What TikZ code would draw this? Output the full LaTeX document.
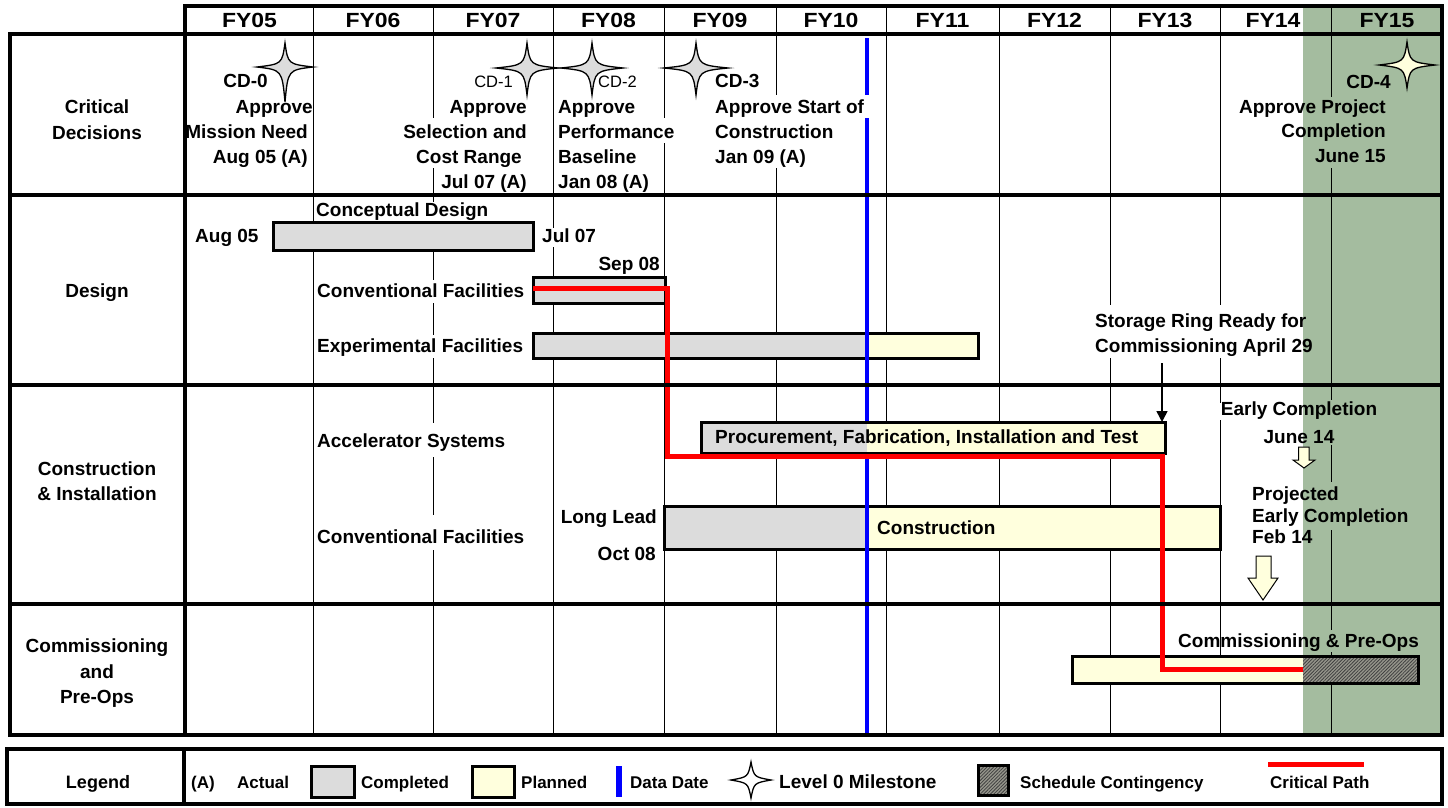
\documentclass[tikz,border=0pt]{standalone}
\usepackage{fontspec}
\setmainfont{Liberation Sans}
\newfontfamily\hdrfont[FakeStretch=1.12]{Liberation Sans}
\usetikzlibrary{patterns.meta,arrows.meta}
\definecolor{cdgray}{RGB}{220,220,220}
\definecolor{planyel}{RGB}{255,255,221}
\definecolor{contgreen}{RGB}{164,188,159}
\definecolor{hatchbg}{RGB}{150,150,140}
\begin{document}
\begin{tikzpicture}[x=1pt,y=-1pt,
  lbl/.style={font=\fontsize{19}{22}\selectfont\bfseries, inner sep=0pt},
  hdr/.style={font=\hdrfont\fontsize{20.5}{22}\selectfont\bfseries, inner sep=0pt, anchor=base},
  lblr/.style={font=\fontsize{16.5}{20}\selectfont, inner sep=0pt},
  leg/.style={font=\fontsize{17}{20}\selectfont\bfseries, inner sep=0pt, anchor=base west},
  thickframe/.style={line width=4pt, line cap=rect},
  gridline/.style={line width=1pt},
  barframe/.style={line width=3pt},
  datadate/.style={draw=blue, line width=4pt},
  critpath/.style={draw=red, line width=5pt, line join=miter},
  hatch/.style={preaction={fill=hatchbg}, pattern={Lines[angle=45,distance=2.4pt,line width=0.8pt]}, pattern color=black!75},
  blockarrow/.style={fill=planyel, draw=black, line width=1pt},
  pics/cdstar/.style n args={3}{code={
    \draw[pic actions, line width=1.3pt] (0,-#1) .. controls (3,-3) .. (#3,0) .. controls (3,3) .. (0,#2)
      .. controls (-3,3) .. (-#3,0) .. controls (-3,-3) .. cycle;}}
]
% canvas
\useasboundingbox (0,0) rectangle (1448,807);
\fill[white] (0,0) rectangle (1448,807);
% schedule contingency shading
\fill[contgreen] (1303,6) rectangle (1442,735);
% grid lines (with gaps where text sits)
\foreach \x/\a/\b in {313/6/735, 433/6/118, 433/168/202, 433/250/280, 433/303/335, 433/358/423, 433/457/515, 433/550/735,
  553/6/228, 553/247/735, 664/6/118, 664/143/735, 776/6/95, 776/168/735, 886/6/735, 999/6/735,
  1110/6/305, 1110/358/735, 1220/6/305, 1220/358/403, 1220/420/735,
  1331/6/97, 1331/168/400, 1331/445/482, 1331/530/630, 1331/652/735}
  \draw[gridline] (\x,\a) -- (\x,\b);
% header
\foreach \c/\t in {249.5/FY05, 373/FY06, 493/FY07, 608.5/FY08, 720/FY09, 831/FY10, 942.5/FY11, 1054.5/FY12, 1165/FY13, 1273/FY14, 1387/FY15}
  \node[hdr] (h\t) at (\c,27) {\t};
% bars
\draw[barframe, fill=cdgray] (273,222) rectangle (533,250);
\draw[barframe, fill=cdgray] (533,277) rectangle (665,303);
\fill[cdgray] (533,333) rectangle (867,358);
\fill[planyel] (867,333) rectangle (978,358);
\draw[barframe] (533,333) rectangle (978,358);
\fill[cdgray] (664,506) rectangle (867,549);
\fill[planyel] (867,506) rectangle (1220,549);
\draw[barframe] (664,506) rectangle (1220,549);
% data date
\draw[datadate] (867,38) -- (867,95);
\draw[datadate] (867,118) -- (867,735);
% procurement bar (in front of the data date line)
\fill[cdgray] (701,422) rectangle (867,453);
\fill[planyel] (867,422) rectangle (1165,453);
\draw[barframe] (701,422) rectangle (1165,453);
% commissioning bar
\fill[planyel] (1072,656) rectangle (1303,683);
\path[hatch] (1303,656) rectangle (1418,683);
\draw[barframe] (1072,656) rectangle (1418,683);
% critical path
\draw[critpath] (533,288) -- (667,288) -- (667,456) -- (1162,456) -- (1162,669) -- (1303,669);
% milestones
\pic[fill=cdgray] at (285,67) {cdstar={24}{35}{28}};
\pic[fill=cdgray] at (527,68) {cdstar={25}{27}{31}};
\pic[fill=cdgray] at (592,68) {cdstar={25}{27}{31}};
\pic[fill=cdgray] at (696,68) {cdstar={25}{27}{32}};
\pic[fill=planyel] at (1407,65) {cdstar={23}{23}{28}};
% block arrows
\draw[blockarrow] (1298.5,447) -- (1309,447) -- (1309,460) -- (1315,460) -- (1304,468) -- (1293,460) -- (1298.5,460) -- cycle;
\draw[blockarrow] (1256,556) -- (1271,556) -- (1271,578) -- (1278,578) -- (1263,600) -- (1248,578) -- (1256,578) -- cycle;
% storage ring arrow
\coordinate (srtop) at (1162,363);
\coordinate (srbot) at (1162,422);
\draw[line width=1.5pt, -{Triangle[length=11pt,width=11pt]}] (srtop) -- (srbot);
% row labels
\node[lbl,anchor=base] (crit1) at (97,113) {Critical};
\node[lbl,anchor=base] (crit2) at (97,139) {Decisions};
\node[lbl,anchor=base] (des) at (97,297) {Design};
\node[lbl,anchor=base] (con1) at (97,475) {Construction};
\node[lbl,anchor=base] (con2) at (97,500) {\& Installation};
\node[lbl,anchor=base] (com1) at (97,652) {Commissioning};
\node[lbl,anchor=base] (com2) at (97,678) {and};
\node[lbl,anchor=base] (com3) at (97,703) {Pre-Ops};
% CD-0
\node[lbl,anchor=base east] (cd0) at (268,87) {CD-0};
\node[lbl,anchor=base east] (cd0a) at (313,113) {Approve};
\node[lbl,anchor=base east] (cd0b) at (308,138) {Mission Need};
\node[lbl,anchor=base east] (cd0c) at (308,163) {Aug 05 (A)};
% CD-1
\node[lblr,anchor=base east] (cd1) at (513,87) {CD-1};
\node[lbl,anchor=base east] (cd1a) at (527,113) {Approve};
\node[lbl,anchor=base east] (cd1b) at (527,138) {Selection and};
\node[lbl,anchor=base east] (cd1c) at (522,163) {Cost Range};
\node[lbl,anchor=base east] (cd1d) at (527,188) {Jul 07 (A)};
% CD-2
\node[lblr,anchor=base west] (cd2) at (598,87) {CD-2};
\node[lbl,anchor=base west] (cd2a) at (558,113) {Approve};
\node[lbl,anchor=base west] (cd2b) at (558,138) {Performance};
\node[lbl,anchor=base west] (cd2c) at (558,163) {Baseline};
\node[lbl,anchor=base west] (cd2d) at (558,188) {Jan 08 (A)};
% CD-3
\node[lbl,anchor=base west] (cd3) at (715,87) {CD-3};
\node[lbl,anchor=base west] (cd3a) at (715,113) {Approve Start of};
\node[lbl,anchor=base west] (cd3b) at (715,138) {Construction};
\node[lbl,anchor=base west] (cd3c) at (715,163) {Jan 09 (A)};
% CD-4
\node[lbl,anchor=base east] (cd4) at (1391,88) {CD-4};
\node[lbl,anchor=base east] (cd4a) at (1386,113) {Approve Project};
\node[lbl,anchor=base east] (cd4b) at (1386,137) {Completion};
\node[lbl,anchor=base east] (cd4c) at (1386,162) {June 15};
% design row
\node[lbl,anchor=base west] (cdes) at (316,216) {Conceptual Design};
\node[lbl,anchor=base west] (aug05) at (195,242) {Aug 05};
\node[lbl,anchor=base west] (jul07) at (542,242) {Jul 07};
\node[lbl,anchor=base east] (sep08) at (660,270) {Sep 08};
\node[lbl,anchor=base west] (convf) at (317,297) {Conventional Facilities};
\node[lbl,anchor=base west] (expf) at (317,352) {Experimental Facilities};
\node[lbl,anchor=base west] (sr1) at (1095,327) {Storage Ring Ready for};
\node[lbl,anchor=base west] (sr2) at (1095,352) {Commissioning April 29};
% construction row
\node[lbl,anchor=base west] (accs) at (317,447) {Accelerator Systems};
\node[lbl,anchor=base west] (convf2) at (317,543) {Conventional Facilities};
\node[lbl,anchor=base west] (proc) at (715,443) {Procurement, Fabrication, Installation and Test};
\node[lbl,anchor=base west] (constr) at (877,534) {Construction};
\node[lbl,anchor=base east] (ll1) at (657,523) {Long Lead};
\node[lbl,anchor=base east] (ll2) at (656,560) {Oct 08};
\node[lbl,anchor=base] (ec1) at (1299,415) {Early Completion};
\node[lbl,anchor=base] (ec2) at (1299,443) {June 14};
\node[lbl,anchor=base west] (pec1) at (1252,500) {Projected};
\node[lbl,anchor=base west] (pec2) at (1252,522) {Early Completion};
\node[lbl,anchor=base west] (pec3) at (1252,543) {Feb 14};
% commissioning row
\node[lbl,anchor=base west] (cpo) at (1178,647) {Commissioning \& Pre-Ops};
% frames
\draw[thickframe] (185,6) rectangle (1442,34);
\draw[thickframe] (10,34) rectangle (1442,735);
\foreach \y in {195,385,604} \draw[thickframe] (10,\y) -- (1442,\y);
\draw[thickframe] (185,34) -- (185,735);
% legend
\draw[thickframe] (7,749) rectangle (1442,804);
\draw[thickframe] (184,749) -- (184,804);
\node[font=\fontsize{18}{20}\selectfont\bfseries, inner sep=0pt, anchor=base] (legt) at (98,788) {Legend};
\node[leg] (lega) at (191,788) {(A)};
\node[leg] (legact) at (237,788) {Actual};
\draw[barframe, fill=cdgray] (311,766) rectangle (354,797);
\node[leg] (legc) at (361,788) {Completed};
\draw[barframe, fill=planyel] (472,766) rectangle (514,797);
\node[leg] (legp) at (521,788) {Planned};
\fill[blue] (616,766) rectangle (622,797);
\node[leg] (legd) at (630,788) {Data Date};
\pic[fill=white] at (751,780) {cdstar={18}{18}{20}};
\node[leg, font=\fontsize{19}{20}\selectfont\bfseries] (legm) at (779,788) {Level 0 Milestone};
\path[hatch] (978,765) rectangle (1008,795);
\draw[barframe] (978,765) rectangle (1008,795);
\node[leg] (legs) at (1020,788) {Schedule Contingency};
\fill[red] (1268,762) rectangle (1364,767);
\node[leg] (legcp) at (1270,788) {Critical Path};
\end{tikzpicture}
\end{document}
